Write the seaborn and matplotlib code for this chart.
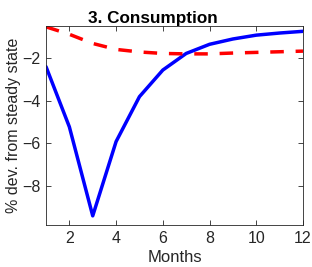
import matplotlib
matplotlib.use("Agg")
import matplotlib.pyplot as plt
import seaborn as sns
import pandas as pd

months = list(range(1, 13))
blue_vals = [-2.39, -5.22, -9.40, -5.91, -3.80, -2.55, -1.77, -1.34, -1.09, -0.91, -0.81, -0.73]
red_vals = [-0.52, -0.87, -1.30, -1.58, -1.70, -1.77, -1.79, -1.79, -1.75, -1.72, -1.69, -1.66]

sns.set_theme(style="white")
plt.rcParams['font.family'] = ['Liberation Sans', 'DejaVu Sans']

fig = plt.figure(figsize=(3.12, 2.67), dpi=100)
ax = fig.add_axes([46/312, 1 - 225/267, (303-46)/312, (225-26)/267])

df = pd.DataFrame({"m": months, "blue": blue_vals, "red": red_vals})
sns.lineplot(data=df, x="m", y="blue", ax=ax, color="#0000ff", linewidth=2.5)
sns.lineplot(data=df, x="m", y="red", ax=ax, color="#ff0000", linewidth=2.5, dashes=False)
ax.lines[-1].set_linestyle((0, (3.9, 3.4)))

ax.set_xlim(1, 12)
ax.set_ylim(-9.83, -0.48)
ax.set_xticks([2, 4, 6, 8, 10, 12])
ax.set_yticks([-8, -6, -4, -2])
ax.tick_params(direction="in", length=3.5, width=0.6, labelsize=11.5, top=True, right=True,
               bottom=True, left=True, colors="#262626", labelcolor="#262626", pad=4)
for s in ax.spines.values():
    s.set_visible(True)
    s.set_color("#262626")
    s.set_linewidth(0.6)
ax.set_xlabel("Months", fontsize=12, labelpad=3, color="#262626")
ax.set_ylabel("% dev. from steady state", fontsize=11.5, labelpad=1, color="#262626")
fig.text(153/312, 1 - 23/267, "3. Consumption", fontsize=12.3, fontweight="bold",
         color="black", ha="center", va="baseline")

fig.savefig("out.png", dpi=100)
